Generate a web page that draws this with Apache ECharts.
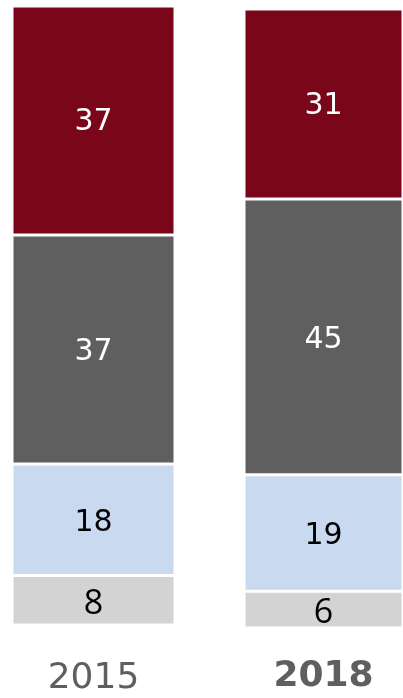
<!DOCTYPE html>
<html>
<head>
<meta charset="utf-8">
<script src="https://cdn.jsdelivr.net/npm/echarts@6/dist/echarts.min.js"></script>
<style>
html,body{margin:0;padding:0;background:#fff;}
#c{width:403px;height:698px;}
</style>
</head>
<body>
<div id="c"></div>
<script>
const years = ['2015', '2018'];
const segBottom = [8, 6];
const segLow = [18, 19];
const segMid = [37, 45];
const segTop = [37, 31];

const segs = [segBottom, segLow, segMid, segTop];
const segColors = ['#d3d3d3', '#c9d9ef', '#5f5f5f', '#7a0619'];
const segLabelColors = ['#000', '#000', '#fff', '#fff'];
const segLabelFonts = ['Open Sans', 'DejaVu Sans', 'DejaVu Sans', 'DejaVu Sans'];
const segLabelSizes = [34, 30, 30, 30];
const segLabelShift = [4, 3, 3, 2];

const grids = [
  { left: 12, top: 6, width: 163, height: 619 },
  { left: 244, top: 9, width: 163, height: 619 }
];
const labelMargins = [36, 31];

const chart = echarts.init(document.getElementById('c'), null, { renderer: 'canvas' });

const xAxis = [], yAxis = [], series = [];
years.forEach((y, gi) => {
  const total = segs.reduce((s, a) => s + a[gi], 0);
  xAxis.push({
    type: 'category', gridIndex: gi, data: [y],
    axisLine: { show: false }, axisTick: { show: false },
    axisLabel: {
      margin: labelMargins[gi],
      fontFamily: 'DejaVu Sans', fontSize: 36,
      fontWeight: gi === 1 ? 'bold' : 'normal',
      color: '#5f5f5f'
    }
  });
  yAxis.push({ type: 'value', gridIndex: gi, min: 0, max: total, show: false, splitLine: { show: false } });
  segs.forEach((arr, si) => {
    series.push({
      type: 'bar', xAxisIndex: gi, yAxisIndex: gi, stack: 'g' + gi,
      data: [arr[gi]], barWidth: '100%',
      itemStyle: { color: segColors[si], borderColor: '#fff', borderWidth: 1.5 },
      label: {
        show: true, position: 'inside', offset: [0, segLabelShift[si]],
        fontFamily: segLabelFonts[si], fontSize: segLabelSizes[si], color: segLabelColors[si]
      },
      silent: true, animation: false
    });
  });
});

chart.setOption({
  animation: false,
  grid: grids,
  xAxis, yAxis, series
});
</script>
</body>
</html>
